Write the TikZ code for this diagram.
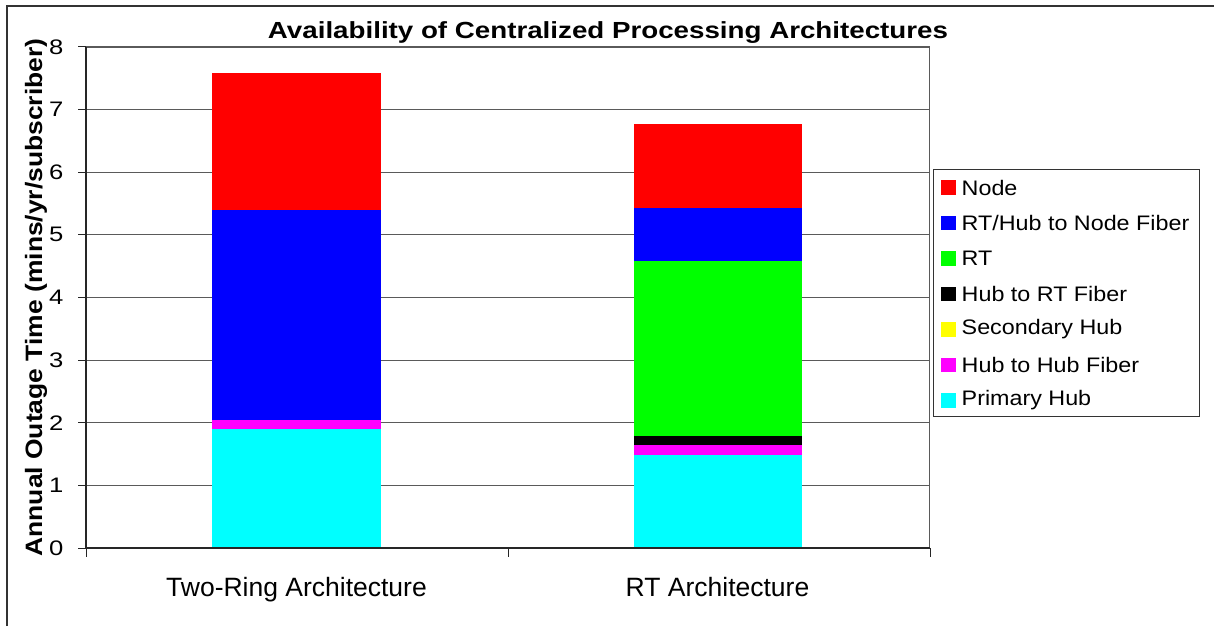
\documentclass[tikz,border=0pt]{standalone}
\usepackage{graphicx}
\usepackage{fontspec}
\setmainfont{Liberation Sans}
\definecolor{nodered}{RGB}{255,0,0}
\definecolor{fiberblue}{RGB}{0,0,255}
\definecolor{rtgreen}{RGB}{0,255,0}
\definecolor{hubyellow}{RGB}{255,255,0}
\definecolor{hubmagenta}{RGB}{255,0,255}
\definecolor{hubcyan}{RGB}{0,255,255}
\definecolor{framegray}{RGB}{51,51,51}
\definecolor{gridgray}{RGB}{90,90,90}
% widen a piece of text horizontally
\newcommand{\widetext}[2]{\scalebox{#1}[1]{#2}}
\tikzset{
  gridline/.style={draw=gridgray, line width=1.1pt},
  axisline/.style={draw=black!85, line width=1.6pt},
  ticklabel/.style={font=\fontsize{21}{21}\selectfont, anchor=east, inner sep=0pt},
  catlabel/.style={font=\fontsize{26.5}{26.5}\selectfont, anchor=base, inner sep=0pt},
  legendtext/.style={font=\fontsize{21}{21}\selectfont, anchor=west, inner sep=0pt},
  swatch/.style={minimum size=14.5pt, inner sep=0pt, draw=none},
}
\begin{document}
\begin{tikzpicture}[x=1pt, y=-1pt]
\useasboundingbox (0,0) rectangle (1214,626);
\fill[white] (0,0) rectangle (1214,626);
% chart frame (runs past the right and lower edges)
\draw[framegray, line width=2pt] (6.5,626) -- (6.5,6.5) -- (1214,6.5);

% title
\node[font=\bfseries\fontsize{23.3}{23.3}\selectfont, anchor=base, inner sep=0pt] (title) at (608,38)
  {\widetext{1.19}{Availability of Centralized Processing Architectures}};

% value axis title
\node[font=\bfseries\fontsize{23.7}{23.7}\selectfont, rotate=90, anchor=base, inner sep=0pt] (ylabel) at (42,297.5)
  {\widetext{1.115}{Annual Outage Time (mins/yr/subscriber)}};

\begin{scope}[shift={(0,548)}, y=62.625pt]
  % gridlines, left ticks and tick labels
  \foreach \v in {1,...,8} {
    \draw[gridline] (86,\v) -- (930,\v);
  }
  \foreach \v in {0,...,8} {
    \draw[black!85, line width=1pt] (78,\v) -- (86,\v);
    \node[ticklabel] (tick\v) at (63.5,\v) {\widetext{1.22}{\v}};
  }
  % plot area right border
  \draw[gridline] (929.5,0) -- (929.5,8);

  % Two-Ring Architecture
  \fill[hubcyan]    (212,0)    rectangle (381,1.90);
  \fill[hubmagenta] (212,1.90) rectangle (381,2.04);
  \fill[fiberblue]  (212,2.04) rectangle (381,5.40);
  \fill[nodered]    (212,5.40) rectangle (381,7.59);

  % RT Architecture
  \fill[hubcyan]    (633.5,0)     rectangle (802,1.485);
  \fill[hubmagenta] (633.5,1.485) rectangle (802,1.645);
  \fill[black]      (633.5,1.645) rectangle (802,1.79);
  \fill[rtgreen]    (633.5,1.79)  rectangle (802,4.585);
  \fill[fiberblue]  (633.5,4.585) rectangle (802,5.43);
  \fill[nodered]    (633.5,5.43)  rectangle (802,6.77);

  % axes
  \draw[axisline] (86,0) -- (930,0);
  \draw[axisline] (86,8) -- (86,0);
\end{scope}
% category ticks below the axis
\draw[black!85, line width=1pt] (86,548) -- (86,557);
\draw[black!85, line width=1pt] (508,548) -- (508,557);
\draw[black!85, line width=1pt] (930,548) -- (930,557);

% category labels
\node[catlabel] (cat1) at (296.5,596) {Two-Ring Architecture};
\node[catlabel] (cat2) at (717.5,596) {RT Architecture};

% legend
\draw[framegray, line width=1pt, fill=white] (933,169) rectangle (1199,416);
\foreach \c/\t [count=\i from 0] in {nodered/Node, fiberblue/RT\slash Hub to Node Fiber, rtgreen/RT, black/Hub to RT Fiber, hubyellow/Secondary Hub, hubmagenta/Hub to Hub Fiber, hubcyan/Primary Hub} {
  \node[swatch, fill=\c] (key\i) at (948.5,187.5+35.5*\i) {};
  \node[legendtext] (entry\i) at (961.5,187.5+35.5*\i) {\widetext{1.11}{\t}};
}
\end{tikzpicture}
\end{document}
